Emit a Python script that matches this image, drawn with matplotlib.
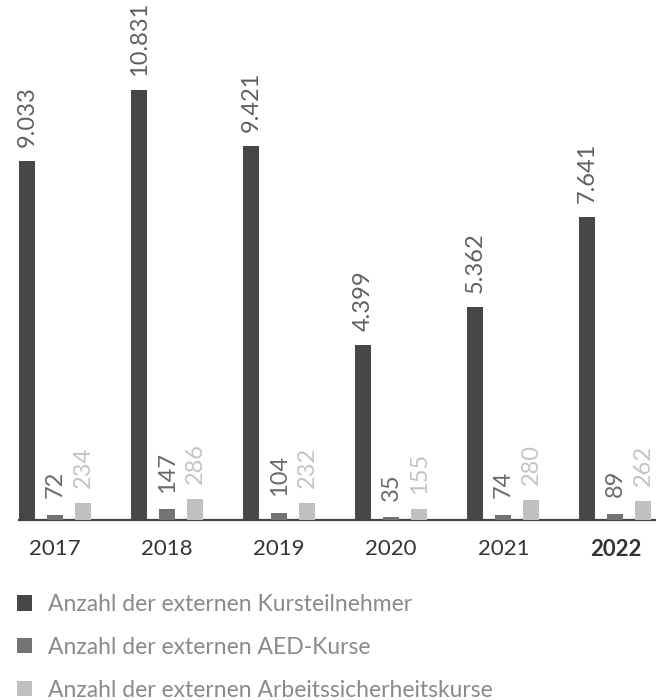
import numpy as np
import matplotlib.pyplot as plt

years = ['2017', '2018', '2019', '2020', '2021', '2022']
teilnehmer = [9033, 10831, 9421, 4399, 5362, 7641]
aed_kurse = [72, 147, 104, 35, 74, 89]
arbeits_kurse = [234, 286, 232, 155, 280, 262]

labels = ['Anzahl der externen Kursteilnehmer',
          'Anzahl der externen AED-Kurse',
          'Anzahl der externen Arbeitssicherheitskurse']
colors = ['#474747', '#737373', '#c0c0c0']

plt.rcParams['font.family'] = ['Lato', 'DejaVu Sans']

fig = plt.figure(figsize=(6.56, 7), dpi=100)
ax = fig.add_axes([19 / 656, 180 / 700, 637 / 656, 480 / 700])
# the small series sit on their own (larger) scale
ax2 = ax.twinx()

x = np.arange(len(years))
off = 0.25
w = 0.143

b1 = ax.bar(x - off, teilnehmer, width=w, color=colors[0], label=labels[0])
b2 = ax2.bar(x, aed_kurse, width=w, color=colors[1], label=labels[1])
b3 = ax2.bar(x + off, arbeits_kurse, width=w, color=colors[2], label=labels[2])

ax.set_xlim(-0.321, 5.362)
ax.set_ylim(0, 12090)
ax2.set_ylim(0, 6667)


def de(v):
    return f'{v:,}'.replace(',', '.')


for xi, v in zip(x, teilnehmer):
    ax.annotate(de(v), (xi - off, v), xytext=(0, 10), textcoords='offset points',
                rotation=90, ha='center', va='bottom', fontsize=17,
                color='#606060')
for xi, v in zip(x, aed_kurse):
    ax2.annotate(de(v), (xi, v), xytext=(0, 12), textcoords='offset points',
                 rotation=90, ha='center', va='bottom', fontsize=17,
                 color='#6a6a6a')
for xi, v in zip(x, arbeits_kurse):
    ax2.annotate(de(v), (xi + off, v), xytext=(0, 11), textcoords='offset points',
                 rotation=90, ha='center', va='bottom', fontsize=17,
                 color='#c4c4c4')

for a in (ax, ax2):
    for s in ('top', 'right', 'left'):
        a.spines[s].set_visible(False)
    a.set_yticks([])
ax2.spines['bottom'].set_visible(False)
ax.spines['bottom'].set_color('#444444')
ax.spines['bottom'].set_linewidth(1.6)

ax.set_xticks(x)
ax.set_xticklabels(years, fontsize=16, color='#333333')
ax.tick_params(axis='x', length=0, pad=14)
ax.get_xticklabels()[-1].set_fontweight('bold')

fig.legend(handles=[b1, b2, b3], loc='upper left', bbox_to_anchor=(17 / 656, 1 - 594 / 700),
           frameon=False, labelcolor='#8a8a8a', handlelength=0.65,
           handleheight=0.65, handletextpad=0.7, labelspacing=0.95, borderpad=0,
           borderaxespad=0, prop={'size': 16.5})

fig.savefig('out.png', dpi=100)
